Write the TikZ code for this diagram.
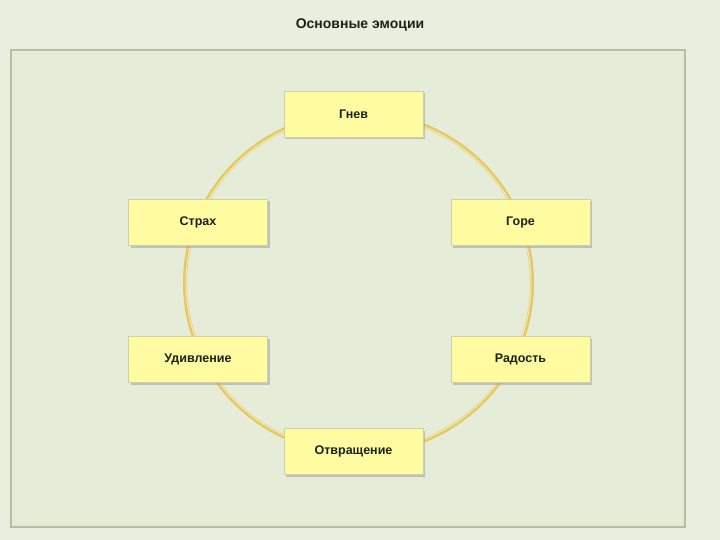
\documentclass[tikz,border=0pt]{standalone}
\usepackage{fontspec}
\setmainfont{Liberation Sans}
\usetikzlibrary{positioning,shadows}

\definecolor{bgcol}{RGB}{232,239,223}
\definecolor{panelcol}{RGB}{229,237,216}
\definecolor{framecol}{RGB}{178,192,160}
\definecolor{ringcol}{RGB}{228,200,96}
\definecolor{boxcol}{RGB}{255,251,160}
\definecolor{inkcol}{RGB}{26,34,26}

\begin{document}
\begin{tikzpicture}[x=1pt, y=-1pt,
    emotion/.style={draw=boxcol!70!black!60, fill=boxcol, rectangle, minimum width=139pt, minimum height=46pt, text=inkcol,
        font=\bfseries\fontsize{12.5}{14}\selectfont, drop shadow={shadow xshift=2pt, shadow yshift=-2pt, fill=black!35, opacity=.6}}]
    \useasboundingbox[fill=bgcol] (0,0) rectangle (720,540);
    \node[text=inkcol] (title) at (360,25) {\bfseries\fontsize{14}{16}\selectfont Основные эмоции};
    \draw[framecol, line width=2pt, fill=panelcol] (11,50) rectangle (685,527);
    \draw[white!60!framecol, line width=.6pt] (14,53) rectangle (682,524);

    % ring behind the boxes
    \draw[ringcol, line width=4pt] (358.5,283) ellipse (173.5pt and 170pt);
    \draw[ringcol!40!white, line width=1pt] (358.5,283) ellipse (172.5pt and 169pt);

    \node[emotion] (Gnev) at (353.5,114) {Гнев};
    \node[emotion] (Strakh) at (198,222.5) {Страх};
    \node[emotion] (Gore) at (520.5,222.5) {Горе};
    \node[emotion] (Udivlenie) at (198,359.5) {Удивление};
    \node[emotion] (Radost) at (520.5,359.5) {Радость};
    \node[emotion] (Otvrashchenie) at (353.5,451.5) {Отвращение};
\end{tikzpicture}
\end{document}
